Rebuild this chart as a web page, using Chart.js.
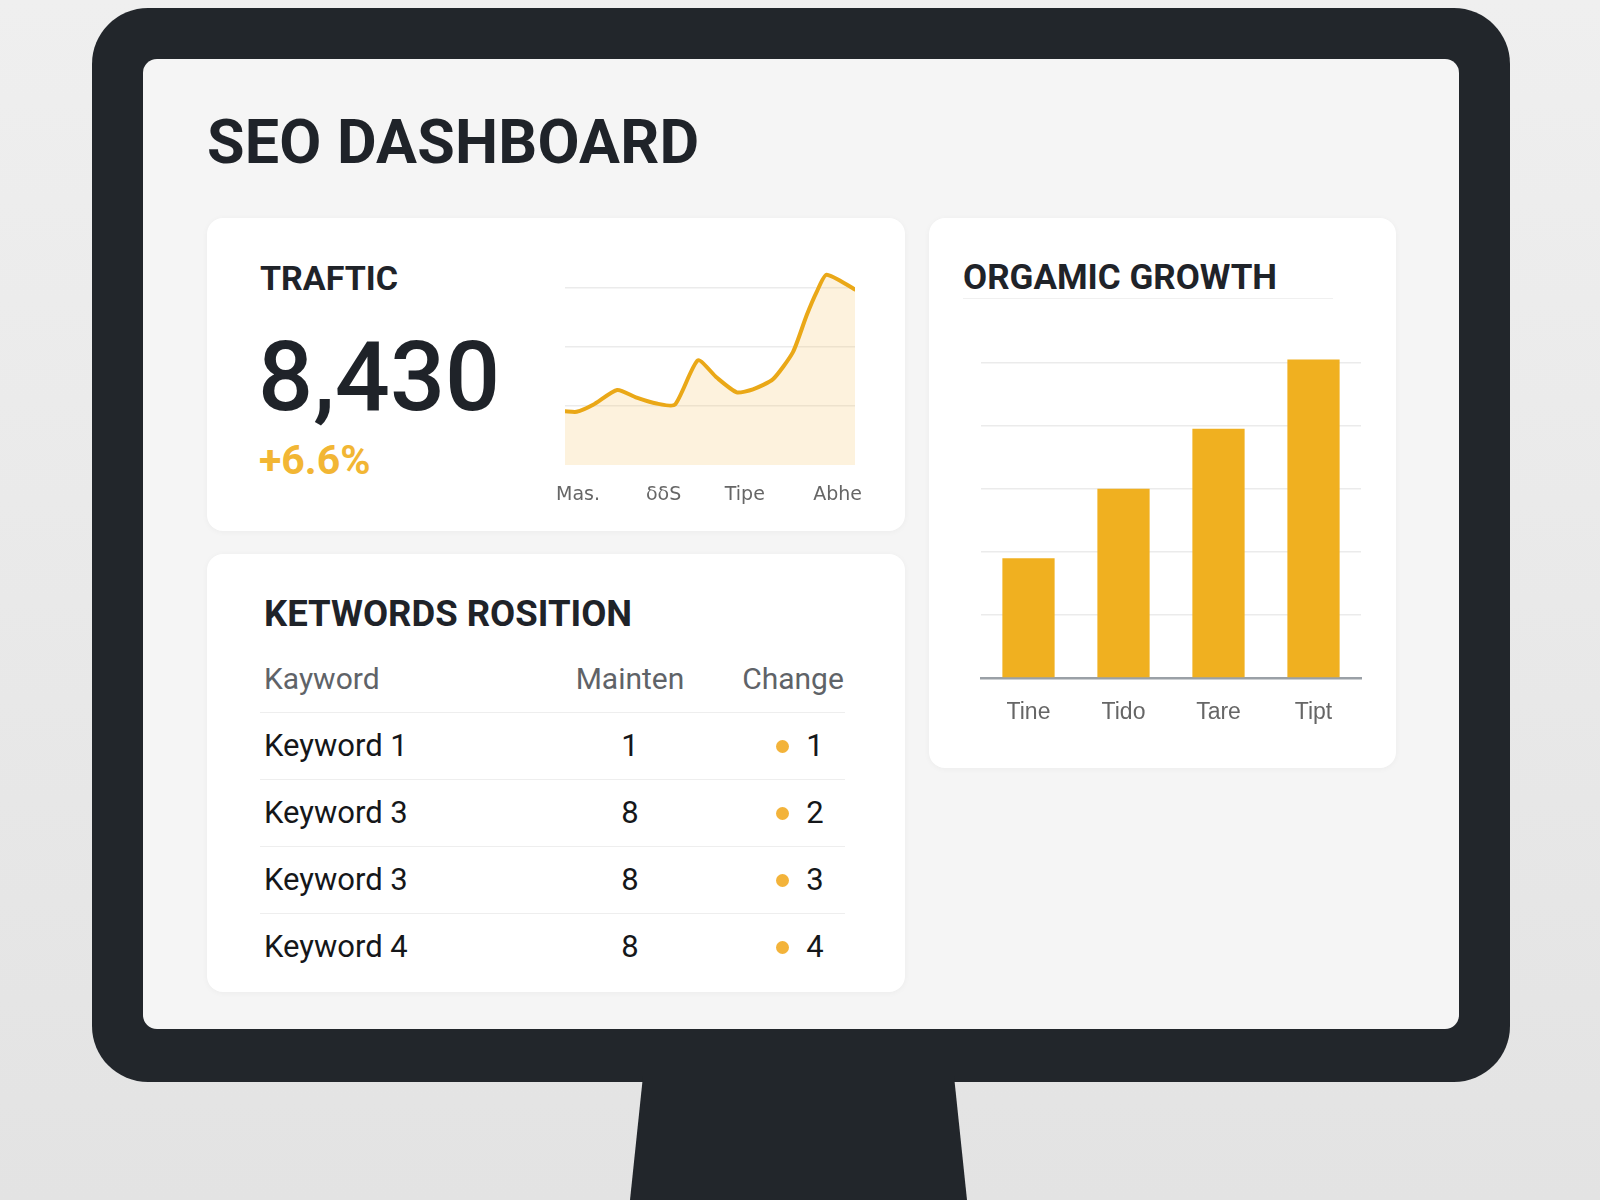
<!DOCTYPE html>
<html>
<head>
<meta charset="utf-8">
<title>SEO Dashboard</title>
<script src="https://cdn.jsdelivr.net/npm/chart.js@4.4.1/dist/chart.umd.min.js"></script>
<style>
    html, body {
        margin: 0;
        padding: 0;
    }
    body {
        width: 1600px;
        height: 1200px;
        position: relative;
        overflow: hidden;
        background: linear-gradient(#efefef, #e3e3e3);
        font-family: Roboto, "Liberation Sans", sans-serif;
        color: #1f2329;
    }
    .bezel {
        position: absolute;
        left: 92px; top: 8px;
        width: 1418px; height: 1074px;
        background: #22262b;
        border-radius: 56px;
    }
    .stand {
        position: absolute;
        left: 630px; top: 1076px;
        width: 337px; height: 124px;
        background: #22262b;
        clip-path: polygon(13px 0, 324px 0, 337px 100%, 0 100%);
    }
    .screen {
        position: absolute;
        left: 143px; top: 59px;
        width: 1316px; height: 970px;
        background: #f5f5f5;
        border-radius: 14px;
    }
    .title {
        position: absolute;
        left: 207px; top: 106px;
        margin: 0;
        font-size: 61px;
        font-weight: 700;
        line-height: 72px;
        letter-spacing: 0.2px;
    }
    .card {
        position: absolute;
        background: #fff;
        border-radius: 16px;
        box-shadow: 0 1px 6px rgba(0, 0, 0, 0.04);
    }
    .card-title {
        position: absolute;
        margin: 0;
        font-size: 34px;
        font-weight: 700;
        line-height: 40px;
        white-space: nowrap;
    }
    .big-number {
        position: absolute;
        left: 51px; top: 104px;
        font-size: 97px;
        font-weight: 500;
        line-height: 110px;
    }
    .delta {
        position: absolute;
        left: 52px; top: 218px;
        font-size: 41px;
        font-weight: 700;
        line-height: 48px;
        color: #f2b634;
    }
    .chart-box {
        position: absolute;
    }
    .title-rule {
        position: absolute;
        left: 34px; top: 80px;
        width: 370px;
        border-top: 1.5px solid #f0f0f0;
    }
    .kw-table {
        position: absolute;
        left: 53px; top: 92px;
        width: 585px;
    }
    .kw-row {
        position: relative;
        height: 66px;
        font-size: 31px;
        line-height: 66px;
        color: #15171a;
    }
    .kw-row + .kw-row {
        border-top: 1.5px solid #eeeeee;
    }
    .kw-row.head {
        color: #5f6368;
        font-size: 30px;
    }
    .kw-row span {
        position: absolute;
        top: 0;
        white-space: nowrap;
    }
    .c-name { left: 4px; }
    .c-pos { left: 370px; width: 0; display: flex; justify-content: center; }
    .c-change { left: 533px; width: 0; display: flex; justify-content: center; }
    .c-num { left: 555px; width: 0; display: flex; justify-content: center; }
    .dot {
        position: absolute;
        left: 516px; top: 27px;
        width: 13px; height: 13px;
        border-radius: 50%;
        background: #f3b33a;
    }
</style>
</head>
<body>
<div class="bezel"></div>
<div class="stand"></div>
<div class="screen"></div>

<h1 class="title">SEO DASHBOARD</h1>

<div class="card" style="left:207px; top:218px; width:698px; height:313px;">
    <h2 class="card-title" style="left:53px; top:40px;">TRAFTIC</h2>
    <div class="big-number" id="traffic-total"></div>
    <div class="delta" id="traffic-delta"></div>
</div>

<div class="card" style="left:929px; top:218px; width:467px; height:550px;">
    <h2 class="card-title" style="left:34px; top:40px; font-size:35px;">ORGAMIC GROWTH</h2>
    <div class="title-rule"></div>
</div>

<div class="card" id="kw-card" style="left:207px; top:554px; width:698px; height:438px;">
    <h2 class="card-title" style="left:57px; top:40px; font-size:36.5px;">KETWORDS ROSITION</h2>
    <div class="kw-table" id="kw-table"></div>
</div>

<div class="chart-box" style="left:525px; top:260px; width:360px; height:250px;">
    <canvas id="traffic-chart"></canvas>
</div>
<div class="chart-box" style="left:971px; top:340px; width:400px; height:400px;">
    <canvas id="growth-chart"></canvas>
</div>

<script>
// Headline numbers
const trafficTotal = '8,430';
const trafficDelta = '+6.6%';

// Traffic sparkline: x positions (0-100) and values
const trafficX = [0, 4, 9.7, 18, 24.7, 31.6, 37.9, 45.8, 52.3, 59.2, 64.8, 71.7, 78.6, 83.3, 86.8, 90.2, 100];
const trafficY = [9.1, 9.0, 10.2, 12.7, 11.4, 10.4, 10.2, 17.7, 14.8, 12.3, 12.8, 14.5, 19.1, 25.3, 29.3, 32.2, 29.7];
const trafficTickPos = [4.5, 34, 62, 94];
const trafficLabels = ['Mas.', 'δδS', 'Tipe', 'Abhe'];
const trafficGrid = [10, 20, 30];

// Organic growth bars
const growthLabels = ['Tine', 'Tido', 'Tare', 'Tipt'];
const growthValues = [19, 30, 39.5, 50.5];
const growthGrid = [0, 10, 20, 30, 40, 50];

// Keyword table
const kwHeaders = ['Kayword', 'Mainten', 'Change'];
const kwNames = ['Keyword 1', 'Keyword 3', 'Keyword 3', 'Keyword 4'];
const kwPositions = [1, 8, 8, 8];
const kwChanges = [1, 2, 3, 4];

const GOLD_LINE = '#eaa817';
const GOLD_BAR = '#f0b020';
const GRID = '#ebebeb';

/**
 * Fill the headline figures
 */
function renderHeadline() {
    document.getElementById('traffic-total').textContent = trafficTotal;
    document.getElementById('traffic-delta').textContent = trafficDelta;
}

/**
 * Build the keyword position table rows
 */
function renderKeywordTable() {
    const table = document.getElementById('kw-table');
    let html = `
        <div class="kw-row head">
            <span class="c-name">${kwHeaders[0]}</span>
            <span class="c-pos">${kwHeaders[1]}</span>
            <span class="c-change">${kwHeaders[2]}</span>
        </div>`;
    kwNames.forEach((name, i) => {
        html += `
        <div class="kw-row">
            <span class="c-name">${name}</span>
            <span class="c-pos">${kwPositions[i]}</span>
            <i class="dot"></i>
            <span class="c-num">${kwChanges[i]}</span>
        </div>`;
    });
    table.innerHTML = html;
}

/**
 * Area sparkline for traffic
 */
function initTrafficChart() {
    const canvas = document.getElementById('traffic-chart');
    new Chart(canvas.getContext('2d'), {
        type: 'line',
        data: {
            datasets: [{
                data: trafficX.map((x, i) => ({ x: x, y: trafficY[i] })),
                borderColor: GOLD_LINE,
                borderWidth: 4,
                backgroundColor: 'rgba(248, 196, 100, 0.22)',
                fill: 'origin',
                pointRadius: 0,
                tension: 0.2,
                borderJoinStyle: 'round',
                borderCapStyle: 'round'
            }]
        },
        options: {
            responsive: true,
            maintainAspectRatio: false,
            animation: false,
            layout: { padding: { left: 40, right: 30, top: 10, bottom: 0 } },
            plugins: { legend: { display: false }, tooltip: { enabled: false } },
            scales: {
                x: {
                    type: 'linear',
                    min: 0,
                    max: 100,
                    grid: { display: false },
                    border: { display: false },
                    afterBuildTicks: axis => {
                        axis.ticks = trafficTickPos.map(v => ({ value: v }));
                    },
                    afterFit: scale => { scale.height = 45; },
                    ticks: {
                        autoSkip: false,
                        maxRotation: 0,
                        padding: 11,
                        color: '#666',
                        font: { family: 'DejaVu Sans', size: 19 },
                        callback: (value, index) => trafficLabels[index]
                    }
                },
                y: {
                    min: 0,
                    max: 33,
                    ticks: { display: false },
                    border: { display: false },
                    afterBuildTicks: axis => {
                        axis.ticks = trafficGrid.map(v => ({ value: v }));
                    },
                    afterFit: scale => { scale.width = 0; },
                    grid: { drawTicks: false, lineWidth: 1.5, color: GRID }
                }
            }
        }
    });
}

/**
 * Bar chart for organic growth
 */
function initGrowthChart() {
    const canvas = document.getElementById('growth-chart');
    new Chart(canvas.getContext('2d'), {
        type: 'bar',
        data: {
            labels: growthLabels,
            datasets: [{
                data: growthValues,
                backgroundColor: GOLD_BAR,
                barPercentage: 0.55,
                categoryPercentage: 1
            }]
        },
        options: {
            responsive: true,
            maintainAspectRatio: false,
            animation: false,
            layout: { padding: { left: 10, right: 10, top: 10, bottom: 12 } },
            plugins: { legend: { display: false }, tooltip: { enabled: false } },
            scales: {
                x: {
                    grid: { display: false },
                    border: { display: true, color: '#9aa0a6', width: 2.5 },
                    afterFit: scale => { scale.height = 50; },
                    ticks: {
                        padding: 13,
                        color: '#666',
                        font: { family: 'Liberation Sans', size: 23 }
                    }
                },
                y: {
                    min: 0,
                    max: 52,
                    ticks: { display: false },
                    border: { display: false },
                    afterBuildTicks: axis => {
                        axis.ticks = growthGrid.map(v => ({ value: v }));
                    },
                    afterFit: scale => { scale.width = 0; },
                    grid: { drawTicks: false, lineWidth: 1.5, color: GRID }
                }
            }
        }
    });
}

document.addEventListener('DOMContentLoaded', function() {
    renderHeadline();
    renderKeywordTable();
    initTrafficChart();
    initGrowthChart();
});
</script>
</body>
</html>
